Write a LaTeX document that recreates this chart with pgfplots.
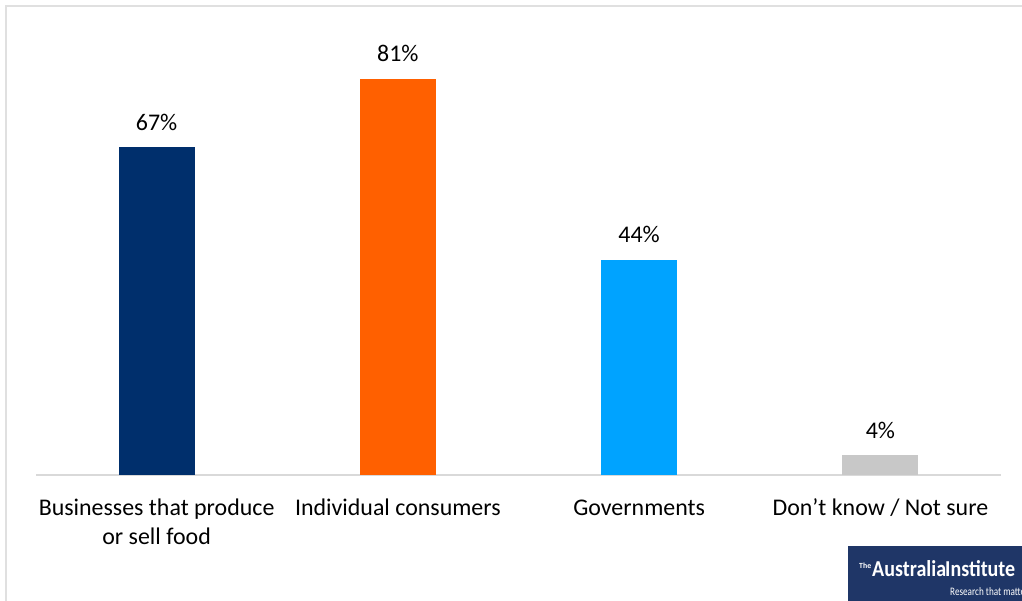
\documentclass[border=0pt]{standalone}
\usepackage{pgfplots}
\pgfplotsset{compat=1.18}
\usepackage{fontspec}
\setmainfont{Carlito}
\definecolor{barnavy}{HTML}{002F6C}
\definecolor{barorange}{HTML}{FF6000}
\definecolor{barblue}{HTML}{00A3FF}
\definecolor{bargrey}{HTML}{C8C8C8}
\definecolor{framegrey}{HTML}{E0E0E0}
\definecolor{axisgrey}{HTML}{D9D9D9}
\definecolor{logonavy}{HTML}{1F3667}
\begin{document}
\begin{tikzpicture}[x=1bp,y=1bp]
\path[use as bounding box] (0,0) rectangle (1022,601);
\draw[line width=2bp, color=framegrey] (6,0) -- (6,595) -- (1022,595);
\begin{axis}[
  at={(36bp,126bp)}, anchor=south west,
  scale only axis, width=965bp, height=440bp,
  xmin=-0.5, xmax=3.5, ymin=0, ymax=90,
  ybar, bar width=76bp, bar shift=0pt,
  axis x line*=bottom, axis y line=none,
  x axis line style={color=axisgrey, line width=1.5bp, -},
  xtick={0,1,2,3},
  xticklabels={{\strut Businesses that produce\\or sell food},{\strut Individual consumers},{\strut Governments},{\strut Don’t know / Not sure}},
  major tick length=0pt,
  xticklabel style={align=center, font=\fontsize{24}{29}\selectfont, inner sep=0pt, yshift=-20.5bp, text=black},
  /pgf/number format/assume math mode=true,
  nodes near coords={\pgfmathprintnumber{\pgfplotspointmeta}\%},
  nodes near coords style={font=\fontsize{24}{28}\selectfont, inner sep=0pt, anchor=south, yshift=17bp, text=black},
  every axis plot/.append style={draw=none},
  clip=false,
]
\addplot[fill=barnavy] coordinates {(0,67)};
\addplot[fill=barorange] coordinates {(1,81)};
\addplot[fill=barblue] coordinates {(2,44)};
\addplot[fill=bargrey] coordinates {(3,4)};
\end{axis}
\begin{scope}
\clip (848,0) rectangle (1022,55);
\fill[logonavy] (848,0) rectangle (1022,55);
\node[anchor=base west, inner sep=0pt, text=white] at (859,32) {\resizebox{12bp}{!}{\bfseries The}};
\node[anchor=base west, inner sep=0pt, text=white] at (872,24) {\resizebox{143bp}{16bp}{\bfseries Australia\kern-0.05em Institute}};
\node[anchor=base west, inner sep=0pt, text=white] at (950,5) {\scalebox{0.8}[1]{\fontsize{11.5}{11.5}\selectfont Research that matters}};
\end{scope}
\end{tikzpicture}
\end{document}
